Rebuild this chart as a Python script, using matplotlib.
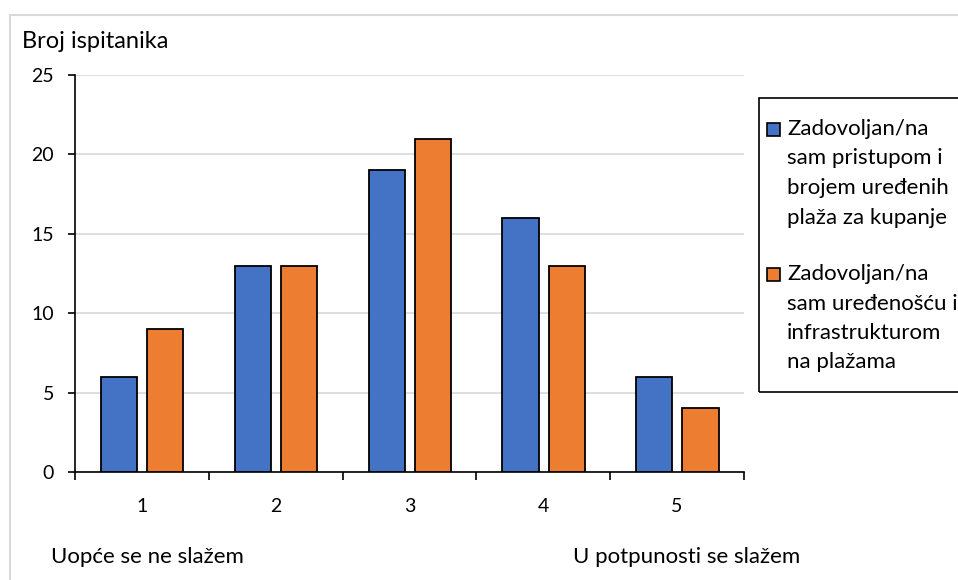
import numpy as np
import matplotlib.pyplot as plt
import matplotlib.patches as mpatches

categories = ['1', '2', '3', '4', '5']
pristup = [6, 13, 19, 16, 6]
uredenost = [9, 13, 21, 13, 4]
series_labels = ['Zadovoljan/na\nsam pristupom i\nbrojem uređenih\nplaža za kupanje',
                 'Zadovoljan/na\nsam uređenošću i\ninfrastrukturom\nna plažama']
series_colors = ['#4472C4', '#ED7D31']

plt.rcParams['font.family'] = ['Lato', 'DejaVu Sans']

W, H = 958, 580
fig = plt.figure(figsize=(W / 100, H / 100), dpi=100)
ax = fig.add_axes([75 / W, 1 - 472 / H, (744 - 75) / W, (472 - 75) / H])

x = np.arange(len(categories))
bar_width = 0.27
ax.bar(x - 0.17, pristup, width=bar_width, color=series_colors[0], edgecolor='black', linewidth=1.3, zorder=3)
ax.bar(x + 0.175, uredenost, width=bar_width, color=series_colors[1], edgecolor='black', linewidth=1.3, zorder=3)

ax.set_xlim(-0.5, 4.5)
ax.set_ylim(0, 25)
ax.set_yticks([0, 5, 10, 15, 20, 25])
ax.yaxis.grid(True, color='#d9d9d9', linewidth=1.2, zorder=0)
ax.set_xticks(x)
ax.set_xticklabels(categories, fontsize=14)
ax.tick_params(axis='x', length=0, pad=19)
ax.set_xticks(np.arange(-0.5, 5, 1), minor=True)
ax.tick_params(axis='x', which='minor', length=6, width=1.2, direction='out')
ax.tick_params(axis='y', labelsize=14, length=5, width=1.2, direction='out', pad=10)

for s in ['top', 'right']:
    ax.spines[s].set_visible(False)
ax.spines['left'].set_linewidth(1.2)
ax.spines['bottom'].set_linewidth(1.2)

fig.text(22 / W, 1 - 42 / H, 'Broj ispitanika', fontsize=17, va='center', ha='left')
fig.text(51 / W, 1 - 557 / H, 'Uopće se ne slažem', fontsize=16, va='center', ha='left')
fig.text(573 / W, 1 - 557 / H, 'U potpunosti se slažem', fontsize=16, va='center', ha='left')

# outer chart border
fig.patches.append(mpatches.Rectangle((10 / W, -0.05), 1.05, 1 - 15 / H + 0.05,
                                      transform=fig.transFigure, fill=False,
                                      edgecolor='#d9d9d9', linewidth=1.5))

# legend box, drawn by hand so the markers sit on the first line of each label
fig.patches.append(mpatches.Rectangle((759 / W, 1 - 392 / H), 0.3, (392 - 98) / H,
                                      transform=fig.transFigure, fill=False,
                                      edgecolor='black', linewidth=1.2))
first_line = [129, 274]
line_step = 29.5
for label, color, y0 in zip(series_labels, series_colors, first_line):
    fig.patches.append(mpatches.Rectangle((767 / W, 1 - (y0 + 7) / H), 13 / W, 13 / H,
                                          transform=fig.transFigure, facecolor=color,
                                          edgecolor='black', linewidth=1.2))
    for i, line in enumerate(label.split('\n')):
        fig.text(787 / W, 1 - (y0 + i * line_step) / H, line, fontsize=16, va='center', ha='left')

plt.savefig('out.png', dpi=100)
